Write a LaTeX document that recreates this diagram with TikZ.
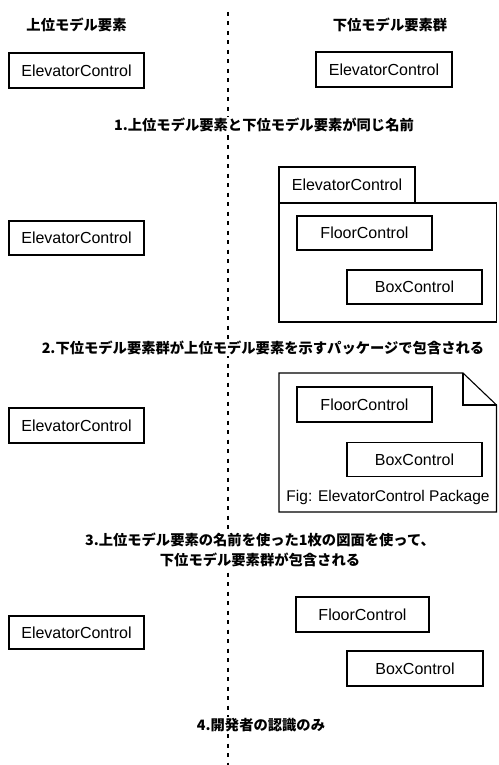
\documentclass[tikz,border=0pt]{standalone}
\usepackage{fontspec}
\setmainfont{Liberation Sans}
\newfontfamily\jp{Noto Sans CJK JP}
\begin{document}
\begin{tikzpicture}[x=1pt,y=-1pt,
  cls/.style={draw=black,line width=1.1pt,inner sep=0pt,font=\fontsize{16}{18}\selectfont,anchor=center},
  jcap/.style={font=\jp\bfseries\fontsize{14.3}{20}\selectfont,inner sep=0pt,align=center},
  divider/.style={line width=1.4pt,dash pattern=on 4pt off 5.5pt}]
\useasboundingbox[fill=white] (0,0) rectangle (498,765);
% divider
\coordinate (dtop) at (228,12);
\coordinate (dbot) at (228,765);
\draw[divider] (dtop) -- (dbot);
% headers
\node[jcap] (hL) at (76.5,25) {上位モデル要素};
\node[jcap] (hR) at (390,25) {下位モデル要素群};
% section 1
\node[cls,minimum width=135pt,minimum height=35pt] (e1L) at (76.5,70.5) {ElevatorControl};
\node[cls,minimum width=136pt,minimum height=35pt] (e1R) at (384,69.5) {ElevatorControl};
\node[jcap,fill=white,inner sep=1pt] (c1) at (264,125) {1.上位モデル要素と下位モデル要素が同じ名前};
% section 2
\node[cls,minimum width=135pt,minimum height=34pt] (e2L) at (76.5,238) {ElevatorControl};
\node[cls,minimum width=136pt,minimum height=36pt] (tab) at (347,185) {ElevatorControl};
\node[draw,line width=1.1pt,minimum width=217.5pt,minimum height=119pt,inner sep=0pt] (body) at (387.75,262.5) {};
\node[cls,minimum width=135pt,minimum height=34pt] (f2) at (364.5,233) {FloorControl};
\node[cls,minimum width=135pt,minimum height=34pt] (b2) at (414.5,287) {BoxControl};
\node[jcap,fill=white,inner sep=1pt] (c2) at (263,348) {2.下位モデル要素群が上位モデル要素を示すパッケージで包含される};
% section 3
\node[cls,minimum width=135pt,minimum height=35pt] (e3L) at (76.5,425.5) {ElevatorControl};
\coordinate (n1) at (279,373);
\coordinate (n2) at (463,373);
\coordinate (n3) at (496.5,405);
\coordinate (n4) at (496.5,512);
\coordinate (n5) at (279,512);
\coordinate (n6) at (463,405);
\draw[line width=1.1pt,line join=miter] (n1) -- (n2) -- (n3) -- (n4) -- (n5) -- cycle;
\draw[line width=1.1pt] (n2) -- (n6) -- (n3);
\node[cls,minimum width=135pt,minimum height=35pt] (f3) at (364.5,404.5) {FloorControl};
\node[cls,minimum width=135pt,minimum height=34pt] (b3) at (414.5,459.5) {BoxControl};
\node[font=\fontsize{15.5}{18}\selectfont,inner sep=0pt] (fig) at (388,497) {Fig: ElevatorControl Package};
\node[jcap,fill=white,inner sep=1pt] (c3) at (260,550) {3.上位モデル要素の名前を使った1枚の図面を使って、\\下位モデル要素群が包含される};
% section 4
\node[cls,minimum width=135pt,minimum height=33pt] (e4L) at (76.5,632.5) {ElevatorControl};
\node[cls,minimum width=133pt,minimum height=35pt] (f4) at (362.5,614.5) {FloorControl};
\node[cls,minimum width=136pt,minimum height=35pt] (b4) at (415,668.5) {BoxControl};
\node[jcap,fill=white,inner sep=1pt] (c4) at (261,725) {4.開発者の認識のみ};
\end{tikzpicture}
\end{document}
